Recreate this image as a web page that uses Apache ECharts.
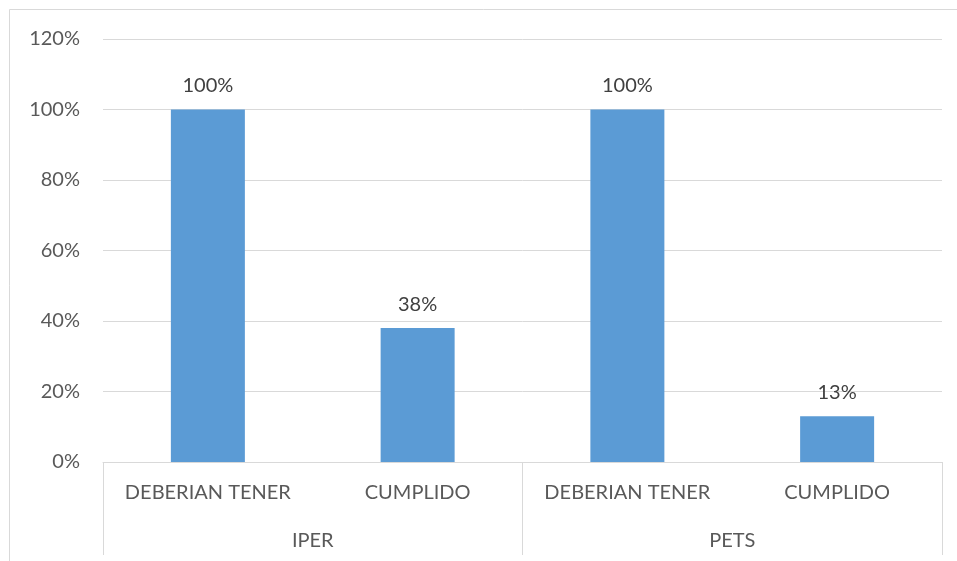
<!DOCTYPE html>
<html>
<head>
<meta charset="utf-8">
<script src="https://cdn.jsdelivr.net/npm/echarts@6/dist/echarts.min.js"></script>
<style>html,body{margin:0;padding:0;background:#fff}#c{width:957px;height:561px}</style>
</head>
<body>
<div id="c"></div>
<script>
const categories = ['DEBERIAN TENER', 'CUMPLIDO', 'DEBERIAN TENER', 'CUMPLIDO'];
const groups = ['IPER', 'PETS'];
const values = [100, 38, 100, 13];
const yTicks = [0, 20, 40, 60, 80, 100, 120];

const FONT = 'Lato';
const FS = 20;
const chart = echarts.init(document.getElementById('c'));
chart.setOption({
  animation: false,
  backgroundColor: '#fff',
  textStyle: { fontFamily: FONT },
  grid: { left: 103, right: 15, top: 39, bottom: 99 },
  graphic: [{
    type: 'rect', silent: true, z: -1,
    shape: { x: 9.5, y: 9.5, width: 960, height: 570 },
    style: { fill: null, stroke: '#d9d9d9', lineWidth: 1 }
  }],
  xAxis: [{
    type: 'category', data: categories, position: 'bottom',
    axisLine: { show: true, lineStyle: { color: '#d9d9d9', width: 1 } },
    axisTick: { show: false },
    axisLabel: { color: '#595959', fontSize: FS, margin: 21, fontFamily: FONT, interval: 0 }
  }, {
    type: 'category', data: groups, position: 'bottom',
    axisLine: { show: false },
    axisTick: { show: true, length: 93, lineStyle: { color: '#d9d9d9', width: 1 } },
    axisLabel: { color: '#595959', fontSize: FS, margin: 69, fontFamily: FONT, interval: 0 }
  }],
  yAxis: {
    type: 'value', min: 0, max: 120, interval: 20,
    axisLine: { show: false }, axisTick: { show: false },
    splitLine: { lineStyle: { color: '#d9d9d9', width: 1 } },
    axisLabel: { color: '#595959', fontSize: FS, margin: 23, fontFamily: FONT,
      formatter: v => yTicks.includes(v) ? v + '%' : '' }
  },
  series: [{
    type: 'bar', data: values, barWidth: 74, xAxisIndex: 0,
    itemStyle: { color: '#5B9BD5' },
    label: { show: true, position: 'top', distance: 14, color: '#404040', fontSize: FS,
      fontFamily: FONT, formatter: p => p.value + '%' }
  }]
});
</script>
</body>
</html>
